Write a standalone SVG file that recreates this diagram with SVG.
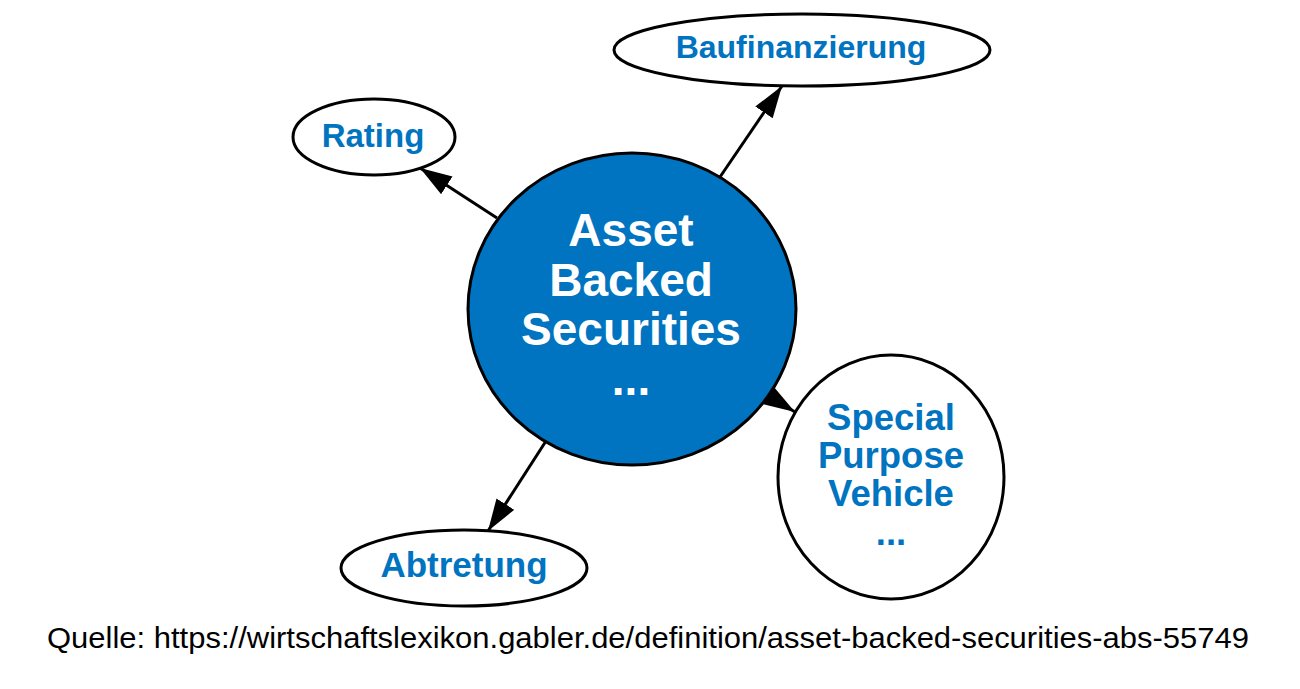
<svg xmlns="http://www.w3.org/2000/svg" width="1300" height="689" viewBox="0 0 1300 689">
<style>
.n{fill:#fff;stroke:#000;stroke-width:3}
.c{fill:#0074c0;stroke:#000;stroke-width:3}
.t{font-family:"Liberation Sans",Arial,sans-serif;font-weight:bold;fill:#0074c0;text-anchor:middle}
.w{font-family:"Liberation Sans",Arial,sans-serif;font-weight:bold;fill:#fff;text-anchor:middle;font-size:46px}
.e{stroke:#000;stroke-width:3;fill:none;marker-end:url(#ah)}
</style>
<defs>
<marker id="ah" markerUnits="userSpaceOnUse" markerWidth="34" markerHeight="23" refX="32" refY="10.5" orient="auto">
<path d="M0,0 L32,10.5 L0,21 Z" fill="#000"/>
</marker>
</defs>
<rect width="1300" height="689" fill="#fff"/>
<g id="edges">
<path class="e" d="M497,218 L420,168"/>
<path class="e" d="M720,177 L782,86"/>
<path class="e" d="M546,441 L488,531"/>
<path class="e" d="M740,378 L795,412"/>
</g>
<g id="center">
<ellipse class="c" cx="632" cy="309" rx="164" ry="156"/>
<text class="w" x="631" y="246">Asset</text>
<text class="w" x="631" y="296">Backed</text>
<text class="w" x="631" y="345">Securities</text>
<text class="w" x="631" y="395">...</text>
</g>
<g id="baufinanzierung">
<ellipse class="n" cx="802" cy="50" rx="188" ry="36"/>
<text class="t" x="801" y="58" font-size="32">Baufinanzierung</text>
</g>
<g id="rating">
<ellipse class="n" cx="374" cy="137" rx="81" ry="38"/>
<text class="t" x="373" y="147" font-size="33">Rating</text>
</g>
<g id="abtretung">
<ellipse class="n" cx="464" cy="568" rx="123" ry="38"/>
<text class="t" x="464" y="577" font-size="35">Abtretung</text>
</g>
<g id="spv">
<ellipse class="n" cx="891" cy="477" rx="113" ry="122"/>
<text class="t" x="891" y="430" font-size="36.5">Special</text>
<text class="t" x="891" y="468" font-size="36.5">Purpose</text>
<text class="t" x="891" y="506" font-size="36.5">Vehicle</text>
<text class="t" x="891" y="545" font-size="36.5">...</text>
</g>
<text x="47" y="648" font-family="Liberation Sans,Arial,sans-serif" font-size="30" textLength="1202" lengthAdjust="spacingAndGlyphs" fill="#000">Quelle: https://wirtschaftslexikon.gabler.de/definition/asset-backed-securities-abs-55749</text>
</svg>
